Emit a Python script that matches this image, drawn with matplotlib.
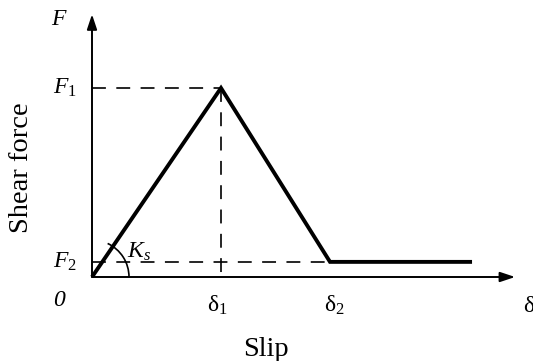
import matplotlib
matplotlib.use("Agg")
import matplotlib.pyplot as plt
from matplotlib.patches import Arc
import numpy as np

plt.rcParams["mathtext.fontset"] = "custom"
plt.rcParams["mathtext.rm"] = "Liberation Serif"
plt.rcParams["mathtext.it"] = "Liberation Serif:italic"
plt.rcParams["font.family"] = "Liberation Serif"
plt.rcParams["lines.scale_dashes"] = False

# trilinear bond-slip law (normalised: delta1 = 1, F1 = 1)
slip = [0.0, 1.0, 1.845, 2.946]
force = [0.0, 1.0, 0.08, 0.08]
delta1, delta2 = slip[1], slip[2]
F1, F2 = force[1], force[2]
x_axis_end = 3.28
y_axis_end = 1.39

fig = plt.figure(figsize=(5.33, 3.61), dpi=100)
ax = fig.add_axes([0, 0, 1, 1])
ax.set_xlim(-92 / 129, 441 / 129)
ax.set_ylim(-84 / 189, 277 / 189)
ax.axis("off")

# axes with arrow heads
arrow = dict(arrowstyle="-|>,head_length=0.9,head_width=0.3", color="black",
             lw=1.4, shrinkA=0, shrinkB=0)
ax.annotate("", xy=(x_axis_end, 0), xytext=(0, 0), arrowprops=arrow)
ax.annotate("", xy=(0, y_axis_end), xytext=(0, 0), arrowprops=arrow)

# guide lines
dash = dict(color="black", lw=1.2, dashes=(10, 7.5))
ax.plot([0, delta1], [F1, F1], **dash)
ax.plot([delta1, delta1], [F1, 0], **dash)
ax.plot([0, delta2], [F2, F2], **dash)

# the law itself
ax.plot(slip, force, color="black", lw=2.8, solid_joinstyle="miter",
        solid_capstyle="butt")

# stiffness arc
ang = np.degrees(np.arctan2(189 * F1, 129 * delta1))
ax.add_patch(Arc((0, 0), 2 * 37 / 129, 2 * 37 / 189, theta1=0, theta2=ang,
                 color="black", lw=1.2))

fs = 17
big = 20.5
ax.text(0.27, 0.135, r"$K_s$", fontsize=fs, ha="left", va="center")
ax.text(-0.186, 1.365, r"$F$", fontsize=fs, ha="right", va="center")
ax.text(-0.116, F1, r"$F_1$", fontsize=fs, ha="right", va="center")
ax.text(-0.116, F2, r"$F_2$", fontsize=fs, ha="right", va="center")
ax.text(-0.209, -0.125, "0", fontsize=fs, style="italic", ha="right",
        va="center")
ax.text(delta1 - 0.03, -0.185, r"$\mathrm{δ}_1$", fontsize=fs, ha="center",
        va="baseline")
ax.text(delta2 + 0.03, -0.185, r"$\mathrm{δ}_2$", fontsize=fs, ha="center",
        va="baseline")
ax.text(3.34, -0.185, r"$\mathrm{δ}$", fontsize=fs, ha="left", va="baseline")
ax.text(1.35, -0.418, "Slip", fontsize=big, ha="center", va="baseline")
ax.text(-0.543, 0.577, "Shear force", fontsize=big, ha="center", va="center",
        rotation=90)

fig.savefig("out.png", dpi=100)
